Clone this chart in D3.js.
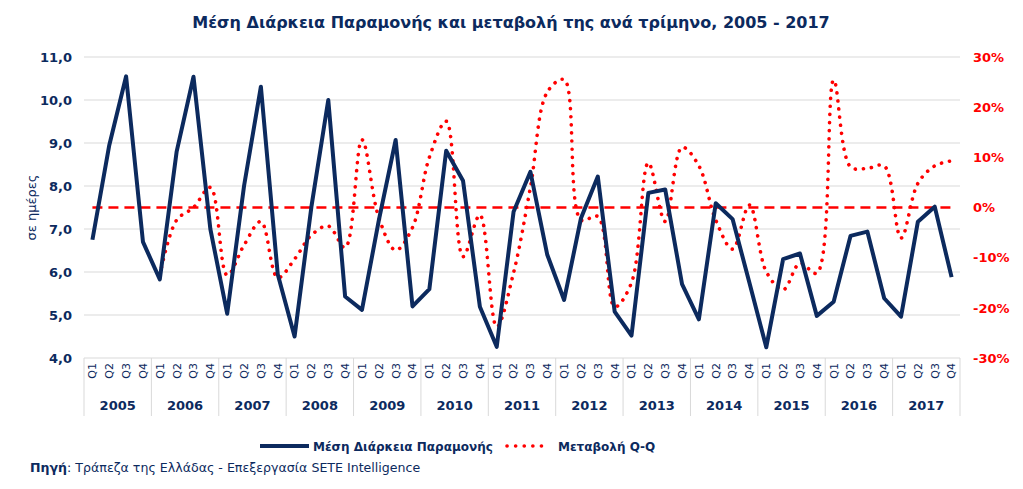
<!DOCTYPE html>
<html>
<head>
<meta charset="utf-8">
<script src="https://cdn.jsdelivr.net/npm/d3@7"></script>
<style>
  body { margin: 0; background: #fff; }
</style>
</head>
<body>
<div id="chart"></div>
<script>
// data
const years = ['2005','2006','2007','2008','2009','2010','2011','2012','2013','2014','2015','2016','2017'];
const quarters = ['Q1','Q2','Q3','Q4'];
// Μέση Διάρκεια Παραμονής (ημέρες)
const stayValues = [
  6.75, 8.95, 10.55, 6.70,
  5.83, 8.80, 10.54, 7.00,
  5.03, 8.00, 10.31, 5.95,
  4.50, 7.52, 10.00, 5.43,
  5.12, 7.20, 9.07, 5.20,
  5.60, 8.82, 8.12, 5.19,
  4.26, 7.40, 8.33, 6.40,
  5.35, 7.25, 8.22, 5.08,
  4.52, 7.84, 7.92, 5.72,
  4.90, 7.60, 7.23, 5.75,
  4.25, 6.30, 6.43, 4.98,
  5.31, 6.84, 6.94, 5.39,
  4.96, 7.17, 7.52, 5.88
];
// Μεταβολή Q-Q (%), starts at Q1 2006
const changeValues = [
  null, null, null, null,
  -13.5, -2.5, 0.0, 4.0,
  -13.5, -7.5, -2.8, -14.0,
  -10.3, -5.5, -3.7, -8.0,
  13.5, -2.0, -8.5, -4.0,
  10.0, 17.2, -9.8, -1.5,
  -23.8, -13.0, 4.0, 23.0,
  25.5, -2.5, -1.8, -19.8,
  -15.0, 8.9, -2.8, 12.0,
  8.3, -2.5, -8.3, 0.5,
  -12.8, -16.4, -11.1, -13.1,
  25.4, 8.1, 7.8, 8.3,
  -6.1, 4.8, 8.3, 9.3
];
const leftTicks = [4, 5, 6, 7, 8, 9, 10, 11];
const rightTicks = [-30, -20, -10, 0, 10, 20, 30];

const W = 1023, H = 489;
const navy = '#0c2a5e';
const red = '#ff0000';
const plot = { left: 84, right: 960, top: 57, bottom: 358 };
const wide = 'Verdana, "DejaVu Sans", sans-serif';

const svg = d3.select('#chart').append('svg')
  .attr('width', W).attr('height', H)
  .attr('font-family', wide);

const idx = d3.range(years.length * quarters.length);
const x = d3.scaleBand().domain(idx).range([plot.left, plot.right]);
const cx = i => x(i) + x.bandwidth() / 2;
const yL = d3.scaleLinear().domain([4, 11]).range([plot.bottom, plot.top]);
const yR = d3.scaleLinear().domain([-30, 30]).range([plot.bottom, plot.top]);

// title
svg.append('text')
  .attr('x', 511).attr('y', 28)
  .attr('text-anchor', 'middle')
  .attr('font-size', 16).attr('font-weight', 'bold')
  .attr('fill', navy)
  .text('Μέση Διάρκεια Παραμονής και μεταβολή της ανά τρίμηνο, 2005 - 2017');

// gridlines
svg.append('g').selectAll('line')
  .data(leftTicks)
  .enter().append('line')
  .attr('x1', plot.left).attr('x2', plot.right)
  .attr('y1', d => yL(d)).attr('y2', d => yL(d))
  .attr('stroke', '#d9d9d9').attr('stroke-width', 1);

// left axis
const fmtL = d => d3.format('.1f')(d).replace('.', ',');
const gL = svg.append('g')
  .attr('transform', `translate(${plot.left},0)`)
  .call(d3.axisLeft(yL).tickValues(leftTicks).tickSize(0).tickPadding(12).tickFormat(fmtL));
gL.select('.domain').remove();
gL.attr('font-family', wide);
gL.selectAll('text')
  .attr('font-size', 13).attr('font-weight', 'bold').attr('fill', navy);

// right axis
const gR = svg.append('g')
  .attr('transform', `translate(${plot.right},0)`)
  .call(d3.axisRight(yR).tickValues(rightTicks).tickSize(0).tickPadding(13).tickFormat(d => d + '%'));
gR.select('.domain').remove();
gR.attr('font-family', wide);
gR.selectAll('text')
  .attr('font-size', 13).attr('font-weight', 'bold').attr('fill', red);

// y axis title
svg.append('text')
  .attr('transform', `translate(31,${(plot.top + plot.bottom) / 2}) rotate(-90)`)
  .attr('text-anchor', 'middle')
  .attr('dy', '0.35em')
  .attr('font-size', 13).attr('fill', navy)
  .text('σε ημέρες');

// x axis: quarter labels
svg.append('g').selectAll('text')
  .data(idx)
  .enter().append('text')
  .attr('transform', i => `translate(${cx(i)},363) rotate(-90)`)
  .attr('text-anchor', 'end')
  .attr('dy', '0.35em')
  .attr('font-size', 11).attr('fill', navy)
  .text(i => quarters[i % 4]);

// year labels
svg.append('g').selectAll('text')
  .data(years)
  .enter().append('text')
  .attr('x', (d, k) => x(k * 4) + x.bandwidth() * 2)
  .attr('y', 410)
  .attr('text-anchor', 'middle')
  .attr('font-size', 13).attr('font-weight', 'bold').attr('fill', navy)
  .text(d => d);

// year separators
svg.append('g').selectAll('line')
  .data(d3.range(years.length + 1))
  .enter().append('line')
  .attr('x1', k => k < years.length ? x(k * 4) : plot.right)
  .attr('x2', k => k < years.length ? x(k * 4) : plot.right)
  .attr('y1', plot.bottom).attr('y2', 416)
  .attr('stroke', '#d9d9d9').attr('stroke-width', 1);

// zero line (right axis)
svg.append('path')
  .datum(idx)
  .attr('fill', 'none')
  .attr('stroke', red).attr('stroke-width', 2.5)
  .attr('stroke-dasharray', '10 6')
  .attr('d', d3.line().x(i => cx(i)).y(() => yR(0)));

// change line (dotted, smoothed)
const changeLine = d3.line()
  .defined(i => changeValues[i] !== null)
  .x(i => cx(i)).y(i => yR(changeValues[i]))
  .curve(d3.curveCatmullRom.alpha(0.5));
svg.append('path')
  .datum(idx)
  .attr('fill', 'none')
  .attr('stroke', red).attr('stroke-width', 3.6)
  .attr('stroke-linecap', 'round')
  .attr('stroke-dasharray', '0.1 8')
  .attr('d', changeLine);

// stay line
svg.append('path')
  .datum(idx)
  .attr('fill', 'none')
  .attr('stroke', navy).attr('stroke-width', 4)
  .attr('stroke-linejoin', 'round')
  .attr('d', d3.line().x(i => cx(i)).y(i => yL(stayValues[i])));

// legend
const lg = svg.append('g');
lg.append('line')
  .attr('x1', 260).attr('x2', 309).attr('y1', 446).attr('y2', 446)
  .attr('stroke', navy).attr('stroke-width', 4);
lg.append('text')
  .attr('x', 313).attr('y', 450.5)
  .attr('font-size', 12).attr('font-weight', 'bold').attr('fill', navy)
  .text('Μέση Διάρκεια Παραμονής');
lg.append('line')
  .attr('x1', 507).attr('x2', 550).attr('y1', 446).attr('y2', 446)
  .attr('stroke', red).attr('stroke-width', 3.6)
  .attr('stroke-linecap', 'round').attr('stroke-dasharray', '0.1 8.5');
lg.append('text')
  .attr('x', 558).attr('y', 450.5)
  .attr('font-size', 12).attr('font-weight', 'bold').attr('fill', navy)
  .text('Μεταβολή Q-Q');

// source
const src = svg.append('text')
  .attr('x', 30).attr('y', 472)
  .attr('font-size', 12.6).attr('fill', navy);
src.append('tspan').attr('font-weight', 'bold').text('Πηγή');
src.append('tspan').text(': Τράπεζα της Ελλάδας - Επεξεργασία SETE Intelligence');
</script>
</body>
</html>
